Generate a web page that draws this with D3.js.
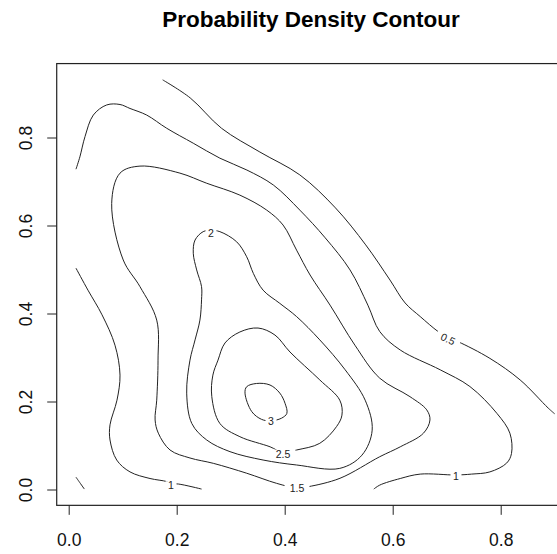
<!DOCTYPE html>
<html>
<head>
<meta charset="utf-8">
<script src="https://cdn.jsdelivr.net/npm/d3@7"></script>
<style>
  body { margin: 0; background: #fff; }
  svg { display: block; font-family: "Liberation Sans", Arial, sans-serif; }
</style>
</head>
<body>
<div id="chart"></div>
<script>
// Probability density contour, redrawn from the picture

const width = 557;
const height = 554;

// tick values
const xTicks = [0, 0.2, 0.4, 0.6, 0.8];
const yTicks = [0, 0.2, 0.4, 0.6, 0.8];

// contour pieces, [x, y]
const level05Top = [[0.174,0.931],[0.225,0.890],[0.283,0.821],[0.354,0.767],[0.428,0.715],[0.494,0.640],
  [0.550,0.556],[0.595,0.476],[0.623,0.424],[0.651,0.393],[0.684,0.359],[0.702,0.345],[0.721,0.336],
  [0.780,0.298],[0.836,0.249],[0.888,0.185],[0.900,0.172]];
const level05Corner = [[0.0135,0.028],[0.0215,0.014],[0.029,0.001]];
const level1Main = [[0.0135,0.728],[0.0207,0.756],[0.0302,0.802],[0.0456,0.851],[0.0704,0.874],[0.095,0.875],
  [0.1135,0.866],[0.1444,0.851],[0.1815,0.821],[0.2307,0.787],[0.280,0.753],[0.330,0.726],[0.379,0.692],
  [0.428,0.635],[0.475,0.572],[0.521,0.499],[0.554,0.419],[0.576,0.359],[0.614,0.317],[0.688,0.272],
  [0.743,0.234],[0.793,0.173],[0.817,0.128],[0.820,0.082],[0.811,0.060],[0.780,0.040],[0.746,0.035],
  [0.717,0.033],[0.651,0.035],[0.614,0.025],[0.576,0.010],[0.565,0.001]];
const level1Left = [[0.0135,0.503],[0.0357,0.453],[0.0617,0.397],[0.0857,0.328],[0.095,0.260],[0.0894,0.203],
  [0.0765,0.147],[0.0765,0.1125],[0.0889,0.067],[0.1135,0.040],[0.1506,0.025],[0.1815,0.018],[0.190,0.013],
  [0.203,0.0125],[0.246,0.001]];
const level15 = [[0.095,0.719],[0.132,0.735],[0.206,0.719],[0.2556,0.696],[0.317,0.669],[0.3667,0.635],
  [0.397,0.601],[0.422,0.544],[0.447,0.4875],[0.484,0.419],[0.530,0.328],[0.576,0.253],[0.632,0.211],
  [0.663,0.181],[0.669,0.158],[0.657,0.128],[0.614,0.097],[0.576,0.0745],[0.5024,0.0255],[0.4437,0.0064],
  [0.423,0.0035],[0.385,0.014],[0.3296,0.037],[0.2678,0.0595],[0.2246,0.0716],[0.1876,0.0898],[0.166,0.128],
  [0.160,0.158],[0.163,0.203],[0.1654,0.294],[0.163,0.385],[0.132,0.461],[0.101,0.5216],[0.0796,0.650]];
const level2 = [[0.280,0.586],[0.311,0.563],[0.3296,0.529],[0.342,0.491],[0.360,0.453],[0.391,0.423],
  [0.422,0.393],[0.465,0.340],[0.512,0.272],[0.549,0.203],[0.562,0.135],[0.543,0.078],[0.502,0.048],
  [0.422,0.0557],[0.360,0.067],[0.2987,0.086],[0.2556,0.1125],[0.228,0.150],[0.2185,0.219],[0.2246,0.294],
  [0.234,0.340],[0.243,0.385],[0.246,0.431],[0.246,0.461],[0.237,0.499],[0.2307,0.537],[0.234,0.567],
  [0.249,0.586],[0.2635,0.589]];
const level25 = [[0.2765,0.294],[0.2894,0.333],[0.317,0.358],[0.3506,0.367],[0.382,0.351],[0.4098,0.3125],
  [0.465,0.249],[0.502,0.203],[0.506,0.169],[0.496,0.143],[0.465,0.105],[0.422,0.0898],[0.397,0.084],
  [0.373,0.097],[0.317,0.120],[0.280,0.150],[0.265,0.211],[0.267,0.260]];
const level3 = [[0.3265,0.219],[0.3296,0.2336],[0.348,0.241],[0.3728,0.2375],[0.391,0.219],[0.4006,0.196],
  [0.404,0.173],[0.394,0.162],[0.374,0.156],[0.357,0.1595],[0.339,0.177]];

// contour labels
const labelText = ["0.5", "1", "1", "1.5", "2", "2.5", "3"];
const labelX = [0.7024, 0.7172, 0.1894, 0.4228, 0.2635, 0.3969, 0.3746];
const labelY = [0.342, 0.0307, 0.0086, 0.0023, 0.582, 0.0807, 0.154];
const labelAngle = [26, 0, 0, 0, 0, 0, 0];

const pieces = [
  {pts: level05Top, closed: false},
  {pts: level05Corner, closed: false},
  {pts: level1Main, closed: false},
  {pts: level1Left, closed: false},
  {pts: level15, closed: true},
  {pts: level2, closed: true},
  {pts: level25, closed: true},
  {pts: level3, closed: true}
];

// scales (x: 0 -> 68.7px, y: 0 -> 489.5px)
const xScale = d3.scaleLinear().domain([0, 0.8]).range([68.7, 500.7]);
const yScale = d3.scaleLinear().domain([0, 0.8]).range([489.5, 137.5]);

const box = {x0: -0.0222, x1: 0.9417, y0: -0.036, y1: 0.968};

const svg = d3.select("#chart")
  .append("svg")
  .attr("width", width)
  .attr("height", height);

// title
svg.append("text")
  .attr("x", 311)
  .attr("y", 27)
  .attr("text-anchor", "middle")
  .attr("font-weight", "bold")
  .attr("font-size", "22.5px")
  .text("Probability Density Contour");

// contour lines
const lineOpen = d3.line()
  .x(d => xScale(d[0]))
  .y(d => yScale(d[1]))
  .curve(d3.curveCatmullRom.alpha(0.5));
const lineClosed = d3.line()
  .x(d => xScale(d[0]))
  .y(d => yScale(d[1]))
  .curve(d3.curveCatmullRomClosed.alpha(0.5));

svg.append("g")
  .selectAll("path")
  .data(pieces)
  .enter()
  .append("path")
    .attr("d", d => d.closed ? lineClosed(d.pts) : lineOpen(d.pts))
    .attr("fill", "none")
    .attr("stroke", "#222")
    .attr("stroke-width", 1);

// labels, with a white patch to break the line
const labels = svg.append("g")
  .selectAll("g")
  .data(labelText)
  .enter()
  .append("g")
    .attr("transform", (d, i) => `translate(${xScale(labelX[i])},${yScale(labelY[i])}) rotate(${labelAngle[i]})`);

labels.append("rect")
  .attr("x", d => -d.length * 3.5 - 2)
  .attr("y", -4.5)
  .attr("width", d => d.length * 7 + 4)
  .attr("height", 9)
  .attr("fill", "#fff");

labels.append("text")
  .attr("text-anchor", "middle")
  .attr("dy", "0.35em")
  .attr("font-size", "10.5px")
  .attr("fill", "#222")
  .text(d => d);

// plot box
svg.append("rect")
  .attr("x", xScale(box.x0))
  .attr("y", yScale(box.y1))
  .attr("width", xScale(box.x1) - xScale(box.x0))
  .attr("height", yScale(box.y0) - yScale(box.y1))
  .attr("fill", "none")
  .attr("stroke", "#222")
  .attr("stroke-width", 1.2);

// x axis
const xAxis = svg.append("g")
  .attr("transform", `translate(0,${yScale(box.y0)})`)
  .call(d3.axisBottom(xScale)
    .tickValues(xTicks)
    .tickFormat(d3.format(".1f"))
    .tickSize(9.5)
    .tickPadding(19));
xAxis.select(".domain").remove();
xAxis.selectAll("text").attr("font-size", "17.5px").attr("fill", "#111");
xAxis.selectAll("line").attr("stroke", "#222");

// y axis, labels turned like R
const yAxis = svg.append("g")
  .attr("transform", `translate(${xScale(box.x0)},0)`)
  .call(d3.axisLeft(yScale)
    .tickValues(yTicks)
    .tickFormat(d3.format(".1f"))
    .tickSize(9.5));
yAxis.select(".domain").remove();
yAxis.selectAll("line").attr("stroke", "#222");
yAxis.selectAll("text")
  .attr("font-size", "17.5px")
  .attr("fill", "#111")
  .attr("x", 0)
  .attr("dy", 0)
  .attr("text-anchor", "middle")
  .attr("transform", `translate(${32 - xScale(box.x0)},0) rotate(-90)`);
</script>
</body>
</html>
